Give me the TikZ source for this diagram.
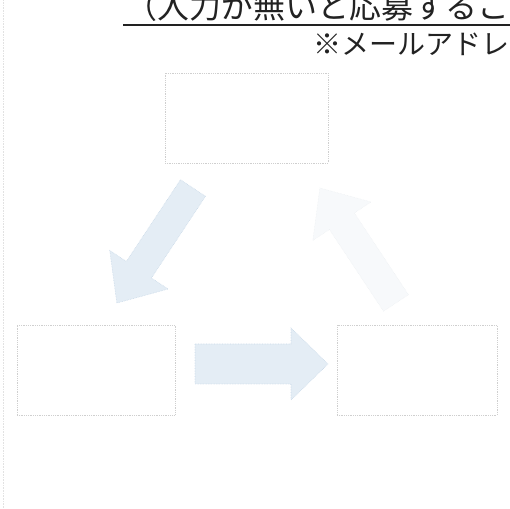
\documentclass[tikz,border=0pt]{standalone}
\usepackage{fontspec}
\newfontfamily\cjk{Noto Sans CJK JP}
\definecolor{boxline}{HTML}{CFCFCF}
\definecolor{arrowfill}{HTML}{E4EDF5}
\definecolor{arrowline}{HTML}{C9D9E8}
\definecolor{faintfill}{HTML}{F7F9FB}
\definecolor{faintline}{HTML}{ECEFF2}
\definecolor{inktext}{HTML}{222222}
\tikzset{
  stagebox/.style={draw=boxline, line width=0.8pt, densely dotted, minimum width=#1, minimum height=90pt, inner sep=0pt},
  blockarrow/.style={fill=arrowfill, draw=arrowline, line width=0.6pt, densely dotted},
  faintarrow/.style={fill=faintfill, draw=faintline, line width=0.5pt, densely dotted},
}
\begin{document}
\begin{tikzpicture}[x=1pt,y=1pt]
\useasboundingbox (0,0) rectangle (510,508);
\clip (0,0) rectangle (510,508);
% faint scan edge
\draw[boxline!60, line width=0.6pt, densely dotted] (3,0) -- (3,508);
% heading lines (top of the first line is cut off by the page edge, as in the reference)
\node[anchor=base west, inner sep=0pt, text=inktext, font=\cjk\fontsize{32}{34}\selectfont] (head1) at (125,489.5) {（入力が無いと応募するこ};
\draw[inktext, line width=1.2pt] (123,483) -- (510,483);
\node[anchor=base west, inner sep=0pt, text=inktext, font=\cjk\fontsize{28}{30}\selectfont] (head2) at (313,453) {※メールアドレ};
% boxes
\node[stagebox=163pt] (topbox) at (246.5,390) {};
\node[stagebox=158pt] (leftbox) at (96,138) {};
\node[stagebox=160pt] (rightbox) at (417,138) {};
% top -> left arrow
\begin{scope}[shift={(193,320)}, rotate=236.5]
  \draw[blockarrow] (0,15) -- (98,15) -- (98,35) -- (138,0) -- (98,-35) -- (98,-15) -- (0,-15) -- cycle;
\end{scope}
% left -> right arrow
\begin{scope}[shift={(195,144)}]
  \draw[blockarrow] (0,20) -- (96,20) -- (96,36) -- (133,0) -- (96,-36) -- (96,-20) -- (0,-20) -- cycle;
\end{scope}
% right -> top arrow (very faint)
\begin{scope}[shift={(396,205)}, rotate=123.5]
  \draw[faintarrow] (0,15) -- (98,15) -- (98,35) -- (138,0) -- (98,-35) -- (98,-15) -- (0,-15) -- cycle;
\end{scope}
\end{tikzpicture}
\end{document}
